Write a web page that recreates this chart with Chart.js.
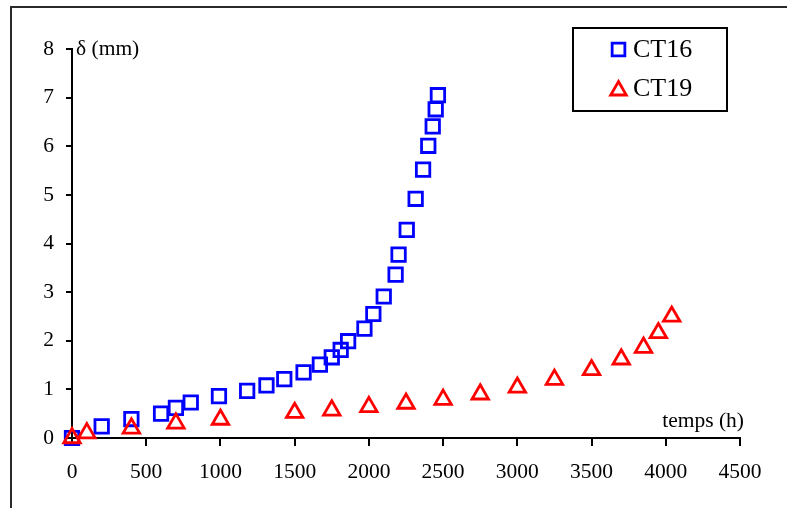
<!DOCTYPE html>
<html lang="fr">
<head>
<meta charset="UTF-8">
<title>Déplacement CT16 / CT19</title>
<script src="https://cdn.jsdelivr.net/npm/chart.js"></script>
<style>
  body { margin: 0; background: #fff; }
  #cadre { width: 787px; height: 508px; position: relative; }
</style>
</head>
<body>
<div id="cadre"><canvas id="graphe"></canvas></div>
<script>
// essai CT16 : temps (h) / déplacement (mm)
const tempsCT16 = [0, 200, 400, 600, 700, 800, 990, 1180, 1310, 1430, 1560, 1670, 1750, 1810, 1860, 1970, 2030, 2100, 2180, 2200, 2255, 2315, 2365, 2400, 2430, 2450, 2465];
const deltaCT16 = [0, 0.24, 0.39, 0.5, 0.62, 0.73, 0.86, 0.97, 1.08, 1.21, 1.35, 1.51, 1.66, 1.81, 1.99, 2.25, 2.55, 2.91, 3.36, 3.77, 4.28, 4.92, 5.52, 6.01, 6.41, 6.76, 7.05];

// essai CT19
const tempsCT19 = [0, 100, 400, 700, 1000, 1500, 1750, 2000, 2250, 2500, 2750, 3000, 3250, 3500, 3700, 3850, 3950, 4040];
const deltaCT19 = [0, 0.1, 0.2, 0.3, 0.38, 0.52, 0.57, 0.64, 0.71, 0.79, 0.9, 1.04, 1.2, 1.4, 1.62, 1.86, 2.16, 2.5];

const nomsSeries = ['CT16', 'CT19'];
const titreY = 'δ (mm)';
const titreX = 'temps (h)';

const police = 'Liberation Serif, Times New Roman, serif';

function points(xs, ys) {
    return xs.map((x, i) => ({ x: x, y: ys[i] }));
}

// cadre extérieur, titres d'axes et légende dessinés à la main
const decor = {
    id: 'decor',
    beforeDraw(chart) {
        const ctx = chart.ctx;
        ctx.save();
        ctx.fillStyle = '#fff';
        ctx.fillRect(0, 0, chart.width, chart.height);
        ctx.strokeStyle = '#2a2a2a';
        ctx.lineWidth = 2;
        ctx.strokeRect(11, 7, 900, 700);
        ctx.restore();
    },
    afterDraw(chart) {
        const ctx = chart.ctx;
        const zone = chart.chartArea;
        ctx.save();
        ctx.fillStyle = '#000';
        ctx.font = '21.5px ' + police;
        ctx.textBaseline = 'middle';
        ctx.textAlign = 'left';
        ctx.fillText(titreY, zone.left + 4, zone.top);
        ctx.textAlign = 'right';
        ctx.fillText(titreX, zone.right + 4, zone.bottom - 17);

        // légende
        ctx.strokeStyle = '#000';
        ctx.lineWidth = 2;
        ctx.strokeRect(573, 28, 154, 83);
        const lignes = [49.5, 88.5];
        chart.data.datasets.forEach((ds, i) => {
            const y = lignes[i];
            ctx.fillStyle = 'rgba(0,0,0,0)';
            ctx.strokeStyle = ds.pointBorderColor;
            ctx.lineWidth = ds.pointBorderWidth;
            Chart.helpers.drawPoint(ctx, {
                pointStyle: ds.pointStyle,
                radius: ds.pointRadius - 0.5,
                rotation: 0,
                borderWidth: ds.pointBorderWidth
            }, 618.5, ds.pointStyle === 'triangle' ? y + 2 : y);
            ctx.fillStyle = '#000';
            ctx.font = '26px ' + police;
            ctx.textAlign = 'left';
            ctx.textBaseline = 'middle';
            ctx.fillText(nomsSeries[i], 633, y + 1);
        });
        ctx.restore();
    }
};

new Chart(document.getElementById('graphe'), {
    type: 'scatter',
    data: {
        datasets: [
            {
                label: nomsSeries[0],
                data: points(tempsCT16, deltaCT16),
                pointStyle: 'rect',
                pointRadius: 9.5,
                pointBorderWidth: 2.8,
                pointBorderColor: '#0000ff',
                pointBackgroundColor: 'rgba(0,0,0,0)',
                clip: false,
                order: 1
            },
            {
                label: nomsSeries[1],
                data: points(tempsCT19, deltaCT19),
                pointStyle: 'triangle',
                pointRadius: 9.5,
                pointBorderWidth: 2.8,
                pointBorderColor: '#ff0000',
                pointBackgroundColor: 'rgba(0,0,0,0)',
                clip: false,
                order: 0
            }
        ]
    },
    options: {
        responsive: true,
        maintainAspectRatio: false,
        animation: false,
        layout: { padding: { left: 0, top: 49, right: 47, bottom: 0 } },
        plugins: {
            legend: { display: false },
            tooltip: { enabled: false }
        },
        scales: {
            x: {
                type: 'linear',
                min: 0,
                max: 4500,
                afterFit(scale) { scale.height = 70; },
                ticks: {
                    stepSize: 500,
                    padding: 13,
                    color: '#000',
                    font: { family: police, size: 21.5 },
                    callback: (v) => String(v)
                },
                grid: {
                    drawOnChartArea: false,
                    drawTicks: true,
                    tickLength: 8,
                    color: '#000',
                    lineWidth: 2
                },
                border: { display: true, color: '#000', width: 2 }
            },
            y: {
                min: 0,
                max: 8,
                afterFit(scale) { scale.width = 72; },
                ticks: {
                    stepSize: 1,
                    padding: 12,
                    color: '#000',
                    font: { family: police, size: 21.5 },
                    callback: (v) => String(v)
                },
                grid: {
                    drawOnChartArea: false,
                    drawTicks: true,
                    tickLength: 6,
                    color: '#000',
                    lineWidth: 2
                },
                border: { display: true, color: '#000', width: 2 }
            }
        }
    },
    plugins: [decor]
});
</script>
</body>
</html>
